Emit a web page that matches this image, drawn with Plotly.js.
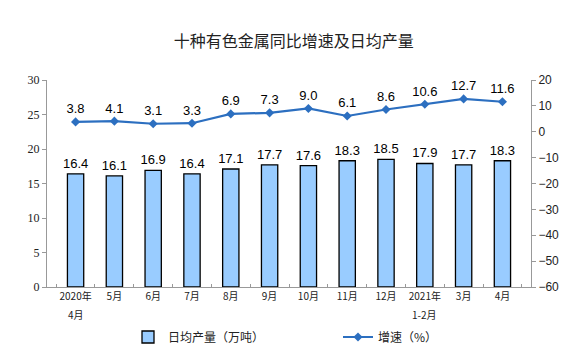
<!DOCTYPE html>
<html><head><meta charset="utf-8">
<script src="https://cdn.plot.ly/plotly-3.0.1.min.js"></script>
<style>body{margin:0;background:#fff}#c{width:576px;height:356px}</style>
</head><body><div id="c"></div>
<script>
const categories = ["2020年4月","2020年5月","2020年6月","2020年7月","2020年8月","2020年9月","2020年10月","2020年11月","2020年12月","2021年1-2月","2021年3月","2021年4月"];
const tickLabels = ["2020年","5月","6月","7月","8月","9月","10月","11月","12月","2021年","3月","4月"];
const subLabels = ["4月","","","","","","","","","1-2月","",""];
const output = [16.4,16.1,16.9,16.4,17.1,17.7,17.6,18.3,18.5,17.9,17.7,18.3];
const growth = [3.8,4.1,3.1,3.3,6.9,7.3,9.0,6.1,8.6,10.6,12.7,11.6];
const leftTicks = [0,5,10,15,20,25,30];
const rightTicks = [-60,-50,-40,-30,-20,-10,0,10,20];

const cjk = '"Noto Sans CJK SC", sans-serif';
const traces = [
  {type:'bar', name:'日均产量（万吨）', x:categories, y:output, legend:'legend',
   marker:{color:'#99CCFF', line:{color:'#000', width:1.3}}, width:0.42,
   text:output.map(v=>v.toFixed(1)), textposition:'outside', cliponaxis:false, constraintext:'none',
   textfont:{family:'Liberation Sans, Arial', size:13, color:'#000'}},
  {type:'scatter', mode:'lines+markers+text', name:'增速（%）', x:categories, y:growth, yaxis:'y2', legend:'legend2',
   line:{color:'#2C6FC0', width:2.2}, marker:{symbol:'diamond', size:7, color:'#2C6FC0'},
   text:growth.map(v=>v.toFixed(1)), textposition:'top center', cliponaxis:false,
   textfont:{family:'Liberation Sans, Arial', size:13, color:'#000'}}
];
const legFont = {family:cjk, size:12, color:'#222'};
const annotations = [];
subLabels.forEach((s,i)=>{ if(s) annotations.push({xref:'x', yref:'paper', x:categories[i], y:-0.088,
  yanchor:'top', text:s, showarrow:false, font:{family:cjk, size:10, color:'#222'}}); });
const layout = {
  width:576, height:356, margin:{l:47, r:45, t:80, b:69, autoexpand:false},
  paper_bgcolor:'#fff', plot_bgcolor:'#fff',
  title:{text:'十种有色金属同比增速及日均产量', x:0.51, xanchor:'center', y:0.885, yanchor:'middle',
    font:{family:cjk, size:16, color:'#222'}},
  showlegend:true,
  legend:{xref:'container', yref:'container', x:128/576, y:1-337/356, xanchor:'left', yanchor:'middle',
    font:legFont, bgcolor:'rgba(0,0,0,0)'},
  legend2:{xref:'container', yref:'container', x:338/576, y:1-337/356, xanchor:'left', yanchor:'middle',
    font:legFont, bgcolor:'rgba(0,0,0,0)'},
  annotations:annotations,
  bargap:0.58,
  xaxis:{type:'category', tickvals:categories, ticktext:tickLabels, showline:true, linecolor:'#999', linewidth:1,
    ticks:'inside', ticklen:3, tickcolor:'#999', tickson:'boundaries', showgrid:false, tickangle:0,
    tickfont:{family:cjk, size:10, color:'#222'}},
  yaxis:{range:[0,30], tickvals:leftTicks, showline:true, linecolor:'#999', linewidth:1,
    ticks:'outside', ticklen:4, tickcolor:'#999', showgrid:false, zeroline:false,
    tickfont:{family:'Liberation Serif, Times New Roman', size:12, color:'#222'}},
  yaxis2:{range:[-60,20], tickvals:rightTicks, overlaying:'y', side:'right', showline:true,
    linecolor:'#999', linewidth:1, ticks:'outside', ticklen:4, tickcolor:'#999', showgrid:false, zeroline:false,
    tickfont:{family:'Liberation Sans, Arial', size:12, color:'#222'}}
};
Plotly.newPlot('c', traces, layout, {displayModeBar:false, staticPlot:true});
</script></body></html>
